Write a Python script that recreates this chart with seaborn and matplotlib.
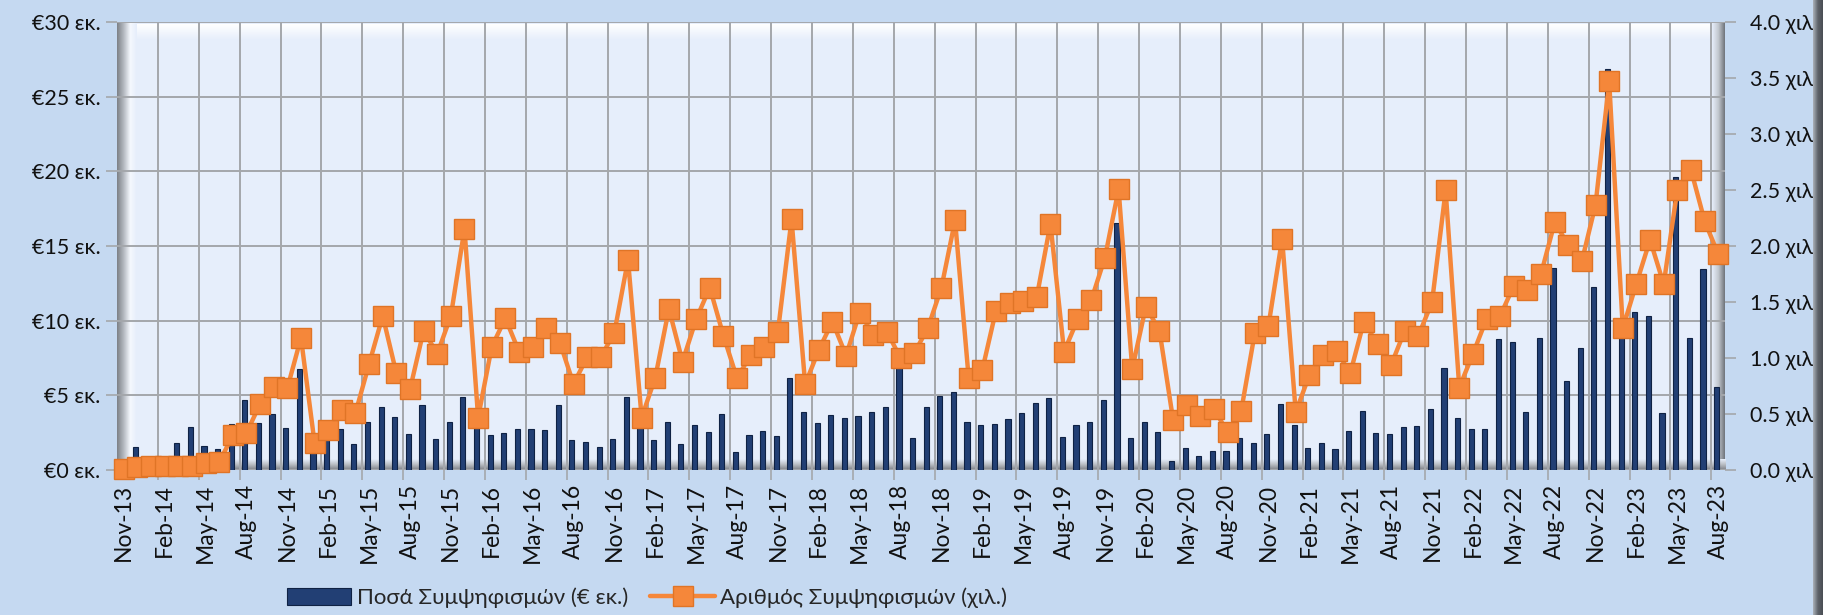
import numpy as np
import pandas as pd
import matplotlib.pyplot as plt
import seaborn as sns
from matplotlib.patches import Patch, Rectangle
from matplotlib.lines import Line2D
from matplotlib.colors import LinearSegmentedColormap

# monthly series, Nov-13 .. Aug-23
months = pd.date_range("2013-11-01", "2023-08-01", freq="MS")
month_labels = [d.strftime("%b-%y") for d in months]

# settlement amounts (EUR mn)
amounts = [
    0.1, 1.56, 0.3, 0.2, 1.79, 2.86, 1.63, 1.38, 3.06, 4.69, 3.13, 3.73,
    2.79, 6.75, 1.23, 2.6, 2.75, 1.74, 3.19, 4.2, 3.53, 2.41, 4.36, 2.08,
    3.22, 4.87, 3.5, 2.35, 2.46, 2.73, 2.75, 2.66, 4.36, 2.03, 1.9, 1.52,
    2.06, 4.87, 3.3, 2.03, 3.22, 1.76, 2.99, 2.52, 3.75, 1.23, 2.35, 2.64,
    2.30, 6.14, 3.91, 3.17, 3.69, 3.51, 3.64, 3.91, 4.24, 7.4, 2.17, 4.2,
    4.96, 5.25, 3.24, 2.99, 3.08, 3.40, 3.82, 4.51, 4.80, 2.19, 3.04, 3.24,
    4.67, 16.53, 2.17, 3.24, 2.57, 0.63, 1.45, 0.92, 1.30, 1.30, 2.17, 1.83,
    2.41, 4.42, 3.02, 1.50, 1.79, 1.41, 2.64, 3.95, 2.50, 2.43, 2.86, 2.95,
    4.11, 6.81, 3.51, 2.73, 2.77, 8.78, 8.58, 3.86, 8.82, 13.51, 5.96, 8.15,
    12.24, 26.85, 9.5, 10.61, 10.34, 3.84, 19.64, 8.82, 13.45, 5.54,
]

# number of settlements (thousands)
counts = [
    0.01, 0.03, 0.035, 0.035, 0.035, 0.04, 0.06, 0.07, 0.31, 0.33, 0.59, 0.745,
    0.73, 1.18, 0.24, 0.357, 0.536, 0.51, 0.947, 1.376, 0.864, 0.72, 1.245, 1.037,
    1.376, 2.153, 0.468, 1.10, 1.355, 1.057, 1.10, 1.266, 1.138, 0.768, 1.007, 1.007,
    1.227, 1.876, 0.468, 0.825, 1.439, 0.968, 1.346, 1.629, 1.20, 0.819, 1.028, 1.096,
    1.236, 2.237, 0.765, 1.072, 1.325, 1.022, 1.406, 1.206, 1.236, 0.998, 1.043, 1.266,
    1.629, 2.228, 0.819, 0.894, 1.424, 1.489, 1.513, 1.549, 2.198, 1.057, 1.346, 1.519,
    1.897, 2.508, 0.902, 1.459, 1.245, 0.447, 0.581, 0.485, 0.545, 0.337, 0.530, 1.227,
    1.29, 2.064, 0.515, 0.849, 1.028, 1.063, 0.864, 1.325, 1.123, 0.938, 1.245, 1.20,
    1.498, 2.496, 0.736, 1.036, 1.349, 1.376, 1.644, 1.608, 1.751, 2.21, 2.01, 1.867,
    2.368, 3.47, 1.266, 1.665, 2.055, 1.659, 2.502, 2.681, 2.225, 1.927,
]

amount_label = "Ποσά Συμψηφισμών (€ εκ.)"
count_label = "Αριθμός Συμψηφισμών (χιλ.)"

navy = "#223F74"
navy_edge = "#0F2244"
orange = "#F5873A"
orange_edge = "#E07426"
grid_col = "#A4A7AB"
fig_bg = "#C5D9F1"

sns.set_theme(style="white")
plt.rcParams["font.family"] = ["Lato", "Open Sans", "DejaVu Sans"]

W, H = 1823, 615
fig = plt.figure(figsize=(W / 100, H / 100), dpi=100, facecolor=fig_bg)

# plot frame in pixels
x0, x1, ytop, ybot = 117, 1725, 22, 470
rect = [x0 / W, 1 - ybot / H, (x1 - x0) / W, (ybot - ytop) / H]

# background "3D" wall look
bg = fig.add_axes(rect, zorder=0)
bg.set_xlim(x0, x1)
bg.set_ylim(ybot, ytop)
bg.set_axis_off()
bg.add_patch(Rectangle((x0, ytop), x1 - x0, ybot - ytop, color="#E6EEFB", lw=0))
top_cm = LinearSegmentedColormap.from_list("t", ["#FFFFFF", "#E6EEFB"])
bg.imshow(np.linspace(0, 1, 50)[:, None], cmap=top_cm, extent=(x0 + 16, x1 - 12, 40, ytop + 2),
          aspect="auto", zorder=1)
left_cm = LinearSegmentedColormap.from_list("l", ["#7E8288", "#B4B9C0", "#F5F8FE", "#E6EEFB"])
bg.imshow(np.linspace(0, 1, 50)[None, :], cmap=left_cm, extent=(x0, x0 + 20, ybot, ytop),
          aspect="auto", zorder=2)
right_cm = LinearSegmentedColormap.from_list("r", ["#E6EEFB", "#C2C7CE", "#6F747B"])
bg.imshow(np.linspace(0, 1, 50)[None, :], cmap=right_cm, extent=(x1 - 13, x1, ybot, ytop),
          aspect="auto", zorder=2)
floor_cm = LinearSegmentedColormap.from_list("f", ["#E6EEFB", "#B9BDC3", "#7D8086"])
bg.imshow(np.linspace(0, 1, 50)[:, None], cmap=floor_cm, extent=(x0, x1, ybot, ybot - 11),
          aspect="auto", zorder=3)

ax = fig.add_axes(rect, zorder=1)
ax.patch.set_alpha(0)
ax.set_axisbelow(True)

n = len(amounts)
idx = np.arange(n)
bars_df = pd.DataFrame({"pos": idx - 0.12, "amount": amounts})
sns.barplot(data=bars_df, x="pos", y="amount", ax=ax, native_scale=True, width=0.38,
            color=navy, saturation=1, edgecolor=navy_edge, linewidth=0.8)

ax2 = ax.twinx()
ax2.set_zorder(2)
ax2.patch.set_visible(False)
line_df = pd.DataFrame({"i": idx, "count": counts})
sns.lineplot(data=line_df, x="i", y="count", ax=ax2, color=orange, lw=3.2,
             marker="s", markersize=14, markerfacecolor=orange,
             markeredgecolor=orange_edge, markeredgewidth=1, clip_on=False)

ax.set_xlim(-0.5, n - 0.5)
ax.set_ylim(0, 30)
ax2.set_ylim(0, 4)

ax.set_xticks(idx[::3])
ax.set_xticklabels(month_labels[::3], rotation=90, fontsize=16.5, color="#111111")
ax.set_xticks(np.arange(2.5, n - 1, 3), minor=True)
ax.xaxis.grid(True, which="minor", color=grid_col, lw=1.4)
ax.xaxis.grid(False, which="major")
ax.tick_params(axis="x", which="major", length=0, pad=10)
ax.tick_params(axis="x", which="minor", length=7, width=1.2, color=grid_col, direction="out", bottom=True)

yt = np.arange(0, 31, 5)
ax.set_yticks(yt)
ax.set_yticklabels([f"€{v} εκ." for v in yt], fontsize=15.5, color="#111111")
ax.yaxis.grid(True, color=grid_col, lw=1.4)
ax.tick_params(axis="y", length=8, width=1.2, color=grid_col, direction="out", left=True, pad=4)

yt2 = np.arange(0, 4.01, 0.5)
ax2.set_yticks(yt2)
ax2.set_yticklabels([f"{v:.1f} χιλ" for v in yt2], fontsize=15.5, color="#111111")
ax2.tick_params(axis="y", length=8, width=1.2, color=grid_col, direction="out", right=True, pad=10)
ax2.grid(False)

ax.set_xlabel("")
ax.set_ylabel("")
ax2.set_xlabel("")
ax2.set_ylabel("")
for a in (ax, ax2):
    for s in a.spines.values():
        s.set_visible(False)
if ax.get_legend():
    ax.get_legend().remove()
if ax2.get_legend():
    ax2.get_legend().remove()

# right-hand dark edge strip
strip = fig.add_axes([1813 / W, 0, 10 / W, 1], zorder=5)
strip_cm = LinearSegmentedColormap.from_list("s", ["#A9AFB7", "#5E636A", "#4A4E54"])
strip.imshow(np.linspace(0, 1, 20)[None, :], cmap=strip_cm, aspect="auto")
strip.set_axis_off()

handles = [
    Patch(facecolor=navy, edgecolor=navy_edge, linewidth=0.8),
    Line2D([0], [0], color=orange, lw=3.2, marker="s", markersize=14,
           markerfacecolor=orange, markeredgecolor=orange_edge),
]
fig.legend(handles, [amount_label, count_label], loc="center", bbox_to_anchor=(0.355, 0.028),
           ncol=2, frameon=False, fontsize=16, handlelength=2.9, handleheight=0.8,
           columnspacing=1.0, handletextpad=0.25, borderpad=0.1)

fig.savefig("out.png", dpi=100, facecolor=fig_bg)
